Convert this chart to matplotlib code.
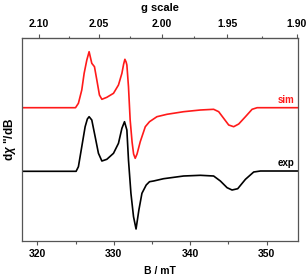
import numpy as np
import matplotlib
matplotlib.use('Agg')
import matplotlib.pyplot as plt

plt.rcParams['font.family'] = ['Liberation Sans', 'DejaVu Sans']
plt.rcParams['font.weight'] = 'bold'
plt.rcParams['mathtext.fontset'] = 'custom'
plt.rcParams['mathtext.it'] = 'Liberation Sans:italic:bold'
plt.rcParams['mathtext.rm'] = 'Liberation Sans:bold'

# field positions (mT) and signal heights (arb. units)
b_sim = [318.0, 325.0, 325.38, 325.82, 326.13, 326.48, 326.78, 327.0, 327.13, 327.48,
         327.79, 328.13, 328.45, 329.10, 329.97, 330.62, 331.07, 331.3, 331.46, 331.62,
         331.72, 331.93, 332.15, 332.4, 332.6, 332.81, 333.05, 333.47, 334.13, 334.68,
         335.65, 336.96, 339.14, 341.33, 343.07, 343.73, 344.38, 345.04, 345.69, 346.35,
         347.23, 348.10, 348.76, 354.0]
y_sim = [134.3, 134.3, 138.7, 152.0, 168.7, 182.0, 190.3, 183.0, 178.7, 175.3,
         162.0, 147.0, 142.7, 144.7, 148.7, 157.0, 168.7, 178.0, 182.7, 180.0,
         177.0, 155.3, 122.0, 100.0, 88.0, 83.7, 88.0, 100.3, 115.3, 120.3,
         125.3, 127.7, 130.3, 132.0, 132.7, 130.3, 123.7, 117.0, 115.3, 118.0,
         125.3, 132.7, 134.3, 134.3]

b_exp = [318.0, 325.08, 325.38, 325.82, 326.26, 326.55, 326.78, 327.13, 327.57, 328.00,
         328.45, 329.10, 329.97, 330.62, 331.07, 331.41, 331.72, 331.93, 332.25, 332.59,
         332.92, 333.29, 333.69, 334.25, 334.68, 335.21, 336.52, 339.14, 341.33, 343.07,
         343.95, 344.83, 345.48, 346.22, 347.23, 348.31, 349.19, 354.0]
y_exp = [70.7, 70.7, 75.3, 95.3, 115.3, 123.0, 125.3, 122.0, 105.3, 88.7,
         81.0, 82.7, 88.7, 98.7, 113.7, 120.3, 112.0, 82.0, 48.7, 25.3,
         13.0, 32.0, 48.7, 57.0, 60.3, 61.0, 63.3, 66.0, 66.7, 66.0,
         61.0, 54.3, 52.0, 53.3, 62.7, 70.0, 71.0, 71.0]

g_ticks = [2.10, 2.05, 2.00, 1.95, 1.90]
g_minor = [2.075, 2.025, 1.975, 1.925]
b_ticks = [320, 330, 340, 350]
b_minor = [325, 335, 345]

GB = 672.5  # g * B (mT) at ~9.41 GHz

fig = plt.figure(figsize=(3.08, 2.76), dpi=100)
ax = fig.add_axes([0.0714, 0.1286, 0.896, 0.7348])

ax.plot(b_sim, y_sim, color='#ff1a1a', lw=1.2)
ax.plot(b_exp, y_exp, color='black', lw=1.2)
ax.text(353.6, 137, 'sim', color='#ff1a1a', fontsize=7, fontweight='bold', ha='right', va='bottom')
ax.text(353.6, 74, 'exp', color='black', fontsize=7, fontweight='bold', ha='right', va='bottom')

ax.set_xlim(318, 354.1)
ax.set_ylim(1.5, 204.3)
ax.set_yticks([])
ax.set_xticks(b_ticks)
ax.set_xticks(b_minor, minor=True)
ax.tick_params(axis='x', which='major', length=3, width=0.8, pad=3, labelsize=7.5, color='#555555')
ax.tick_params(axis='x', which='minor', length=1.8, width=0.8, color='#555555')
for s in ax.spines.values():
    s.set_color('#555555')
    s.set_linewidth(0.9)
ax.set_xlabel('B / mT', fontsize=7.5, fontweight='bold', labelpad=5)
ax.set_ylabel('d$\\chi$ "/dB', fontsize=8.5, fontweight='bold', labelpad=3)

sec = ax.secondary_xaxis('top', functions=(lambda b: GB / b, lambda g: GB / g))
sec.set_xticks(g_ticks)
sec.set_xticks(g_minor, minor=True)
sec.set_xticklabels(['%.2f' % g for g in g_ticks])
sec.tick_params(axis='x', which='major', length=3, width=0.8, pad=3, labelsize=7.5, color='#555555')
sec.tick_params(axis='x', which='minor', length=1.8, width=0.8, color='#555555')
sec.spines['top'].set_color('#555555')
sec.set_xlabel('g scale', fontsize=8, fontweight='bold', labelpad=6)

plt.savefig('out.png', dpi=100)
